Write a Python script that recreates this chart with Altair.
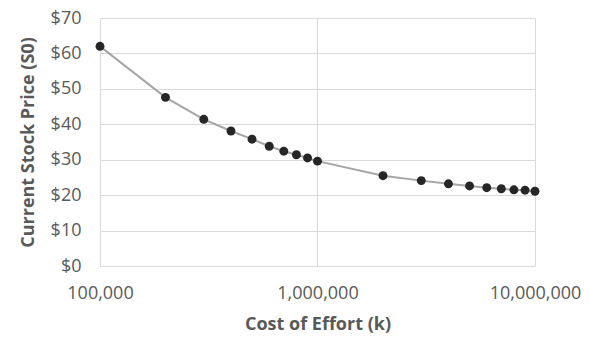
import altair as alt
import pandas as pd

cost = [100000, 200000, 300000, 400000, 500000, 600000, 700000, 800000, 900000,
        1000000, 2000000, 3000000, 4000000, 5000000, 6000000, 7000000, 8000000,
        9000000, 10000000]
price = [62.0, 47.6, 41.4, 38.1, 35.8, 33.8, 32.4, 31.4, 30.5,
         29.6, 25.5, 24.1, 23.2, 22.6, 22.1, 21.8, 21.5, 21.4, 21.1]
x_ticks = [100000, 1000000, 10000000]
y_ticks = [0, 10, 20, 30, 40, 50, 60, 70]

df = pd.DataFrame({"cost": cost, "price": price})

FONT = "Open Sans"
GRAY = "#595959"

x = alt.X("cost:Q",
          scale=alt.Scale(type="log", domain=[100000, 10000000], nice=False),
          axis=alt.Axis(values=x_ticks, format=",", title="Cost of Effort (k)",
                        grid=True, gridColor="#d9d9d9", domain=False, ticks=False,
                        labelPadding=18, labelFontSize=18, labelColor=GRAY,
                        labelFont=FONT, titleFont=FONT, titleFontSize=18,
                        titleColor=GRAY, titleFontWeight="bold", titlePadding=13,
                        labelFlush=False))
y = alt.Y("price:Q",
          scale=alt.Scale(domain=[0, 70], nice=False, zero=True),
          axis=alt.Axis(values=y_ticks, format="$,.0f",
                        title="Current Stock Price (S0)",
                        grid=True, gridColor="#d9d9d9", domain=False, ticks=False,
                        labelPadding=19, labelFontSize=18, labelColor=GRAY,
                        labelFont=FONT, titleFont=FONT, titleFontSize=18,
                        titleColor=GRAY, titleFontWeight="bold", titlePadding=13))

line = alt.Chart(df).mark_line(color="#a5a5a5", strokeWidth=2).encode(x=x, y=y)
pts = alt.Chart(df).mark_point(filled=True, color="#262626", size=80, opacity=1).encode(x=x, y=y)

chart = (line + pts).properties(
    width=435, height=248,
    autosize=alt.AutoSizeParams(type="none"),
    padding={"left": 92, "top": 10, "right": 47, "bottom": 69},
).configure_view(stroke=None)

chart.save("out.html", embed_options={"renderer": "svg", "actions": False})
